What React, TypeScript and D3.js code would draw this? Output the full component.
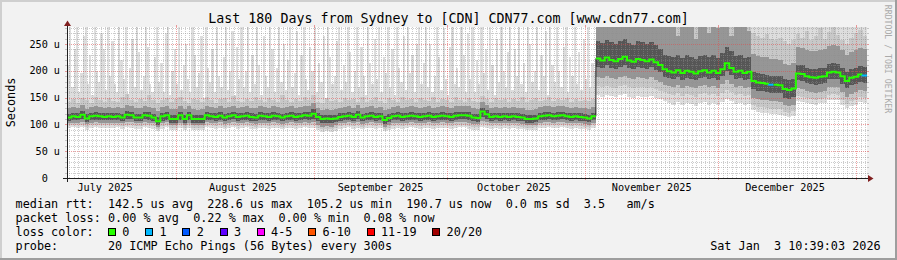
import React from 'react';
import * as d3 from 'd3';

// ---------------- data (180 days ending Sat Jan 3 10:39:03 2026) ----------------
const END_TIME = Date.UTC(2026, 0, 3, 10, 39, 3);
const DAY_MS = 86400000;
const DAYS = 180;
const START_TIME = END_TIME - DAYS * DAY_MS;

// median rtt (us), one value per day
const median = [
  113,115,114,118,111,115,116,115,114,115, 114,115,113,118,117,113,113,117,116,113,
  106,115,117,110,110,117,110,117,110,110, 110,117,115,114,116,113,115,117,114,115,
  116,114,113,116,115,114,116,115,113,115, 116,114,115,117,116,120,114,110,111,110,
  111,114,115,116,114,118,113,115,116,114, 115,108,112,115,116,114,115,116,115,114,
  115,116,114,115,116,115,114,116,117,117, 116,113,112,124,119,114,115,114,115,114,
  115,114,113,110,110,111,115,116,117,115, 116,117,115,114,115,114,113,111,115,
  223,219,225,220,218,222,226,219,217,222,220,218,221,216,211,203,
  199,197,201,196,200,198,195,199,201,197,200,196,203,214,205,198,200,196,198,
  181,178,177,176,174,174,173,166,164,167,
  195,194,190,188,187,189,190,197,198,197,190,181,187,189,193,191,
];

// smoke: inner dark band (per day)
const smokeLo4 = [
  107,108,108,110,105,108,109,109,108,108, 108,108,107,110,110,107,107,110,109,107,
  99,107,109,103,103,108,103,108,103,103, 103,109,108,107,109,106,108,110,107,108,
  109,107,106,109,108,107,109,108,106,108, 109,107,108,110,108,111,106,102,103,102,
  104,107,108,109,107,110,106,108,109,107, 108,100,104,108,109,107,108,109,108,107,
  108,109,107,108,109,108,107,109,110,110, 108,106,105,113,111,107,108,107,108,107,
  108,107,106,103,103,104,108,109,110,108, 109,110,108,107,108,107,106,104,108,
  208,205,210,206,204,208,211,205,203,207,206,204,207,202,197,189,
  186,184,188,183,187,185,182,186,188,184,187,183,190,199,192,185,187,183,185,
  166,163,162,161,159,159,158,150,148,151,
  182,181,177,175,174,176,177,184,185,184,176,167,173,175,180,178,
];
const smokeHi4 = [
  120,122,121,125,119,122,123,122,121,122, 121,122,120,125,124,120,120,124,123,120,
  114,122,124,118,118,124,118,124,118,117, 117,124,122,121,123,120,122,124,121,122,
  123,121,120,123,122,121,123,122,120,122, 123,121,122,124,123,128,121,117,118,117,
  118,121,122,123,121,125,120,122,123,121, 122,116,119,122,123,121,122,123,122,121,
  122,123,121,122,123,122,121,123,124,124, 123,120,119,131,126,121,122,121,122,121,
  122,121,120,117,117,118,122,123,124,122, 123,124,122,121,122,121,120,118,122,
  256,252,258,254,250,255,260,252,249,255,253,250,254,248,240,230,
  228,225,230,224,229,226,222,227,230,225,229,224,233,245,236,227,229,224,226,
  198,195,194,193,191,191,190,184,182,185,
  211,210,206,204,203,205,206,213,214,213,206,197,203,205,209,207,
];
// smoke: middle band (per day)
const smokeLo3 = [
  102,103,103,104,100,103,104,103,103,103, 103,103,102,104,104,102,102,104,103,102,
  95,102,104,98,98,103,98,103,98,98, 98,104,103,102,104,101,103,104,102,103,
  104,102,101,103,103,102,104,103,101,103, 104,102,103,104,103,104,99,96,97,96,
  98,102,103,104,102,104,101,103,104,102, 103,95,98,102,103,102,103,104,103,102,
  103,104,102,103,104,103,102,104,104,104, 102,100,100,106,105,102,103,102,103,102,
  103,102,101,98,98,99,103,104,104,103, 104,104,103,102,103,102,101,99,103,
  188,186,190,187,185,189,191,186,184,188,187,185,188,183,179,174,
  171,169,173,168,172,170,167,171,173,169,172,168,175,182,176,170,172,168,170,
  150,147,146,145,143,143,142,136,134,137,
  167,166,162,160,159,161,162,169,170,169,160,151,157,160,165,163,
];
const smokeHi3 = [
  130,133,131,136,128,132,134,132,131,133, 131,133,130,136,135,130,131,134,133,130,
  125,132,135,128,128,134,128,134,128,127, 128,135,132,131,134,130,132,135,131,132,
  134,131,130,134,132,131,134,132,130,132, 134,131,132,135,134,140,131,127,128,127,
  128,131,132,134,131,136,130,132,134,131, 132,126,129,132,134,131,132,134,132,131,
  132,134,131,132,134,132,131,134,135,135, 134,130,129,142,137,131,132,131,132,131,
  132,131,130,127,127,128,132,134,135,132, 134,135,132,131,132,131,130,128,132,
  300,300,300,300,300,300,300,300,300,300,300,300,300,300,285,285,
  290,300,265,300,285,300,260,300,295,270,300,280,300,300,265,300,290,300,275,
  232,228,226,225,222,222,220,212,210,214,
  245,243,239,237,236,238,240,247,249,247,239,229,235,238,243,241,
];
// smoke: outer-middle band (per day)
const smokeLo2 = [
  98,99,98,99,95,98,99,98,98,98, 98,99,97,99,99,97,97,99,98,97,
  91,97,99,94,94,98,94,98,94,94, 94,99,98,97,99,96,98,99,97,98,
  99,97,96,98,98,97,99,98,96,98, 99,97,98,99,98,99,94,91,92,91,
  93,97,98,99,97,99,96,98,99,97, 98,91,94,97,98,97,98,99,98,97,
  98,99,97,98,99,98,97,99,99,99, 97,95,95,100,99,97,98,97,98,97,
  98,97,96,94,94,95,98,99,99,98, 99,99,98,97,98,97,96,95,98,
  171,169,172,170,168,171,173,169,167,170,169,168,170,166,163,160,
  156,154,158,153,157,155,152,156,158,154,157,153,159,165,160,155,157,153,155,
  136,133,132,131,129,129,128,124,122,125,
  153,152,149,147,146,148,149,155,156,155,146,138,143,146,151,149,
];
const smokeHi2 = [
  141,147,140,150,145,139,152,146,142,149, 143,141,151,156,146,141,148,143,155,145,
  140,145,149,141,147,152,143,140,148,145, 142,151,145,140,147,149,141,153,144,141,
  148,143,152,145,141,150,145,141,155,146, 141,148,143,151,145,155,142,139,149,144,
  145,141,150,145,147,142,152,141,146,151, 144,140,149,145,142,152,145,147,141,150,
  145,143,151,141,148,145,142,152,146,141, 149,144,142,153,148,141,150,145,147,141,
  148,143,151,141,146,149,143,145,152,143, 147,145,150,141,148,143,145,143,147,
  300,300,300,300,300,300,300,300,300,300,300,300,300,300,300,300,
  300,300,300,300,300,300,300,300,300,300,300,300,300,300,300,300,300,300,300,
  270,265,262,268,260,258,262,255,250,258,
  268,262,275,258,265,280,260,272,285,266,258,250,262,270,276,265,
];
// smoke: outer band, lowest ping (per day)
const smokeMin = [
  94,95,93,95,90,93,95,94,93,94, 93,95,92,95,94,92,92,95,93,92,
  87,92,95,89,89,94,89,93,89,89, 89,95,93,92,94,91,93,95,92,93,
  95,92,91,94,93,92,94,93,91,93, 94,92,93,95,93,94,89,86,87,86,
  88,92,93,95,92,94,91,93,94,92, 93,87,89,92,94,92,93,95,93,92,
  93,94,92,93,94,93,92,94,95,95, 92,90,90,95,94,92,93,92,93,92,
  93,92,91,89,89,90,93,94,95,93, 94,95,93,92,93,92,91,90,93,
  154,152,155,153,151,154,156,152,150,153,152,151,153,149,147,144,
  139,137,141,136,140,138,135,139,141,137,140,136,142,147,143,138,140,136,138,
  126,123,122,121,119,119,118,115,113,116,
  143,142,140,138,137,139,140,145,146,145,136,130,134,137,141,140,
];
// smoke: outer band, highest ping (per half day)
const smokeMaxHalfDay = [
  210,285,170,240,285,160,195,265,285,175,230,155,285,200,180,270,240,165,285,190,
  255,175,160,285,220,185,285,150,205,260,170,285,235,165,190,285,245,175,160,225,
  285,180,215,160,270,285,155,200,240,175,285,165,210,250,185,160,285,230,170,195,
  265,150,285,205,180,240,160,285,190,170,225,285,165,200,275,155,245,185,285,170,
  200,285,160,230,175,285,210,155,265,190,170,285,240,160,205,285,180,250,165,220,
  285,170,195,275,155,230,285,185,165,245,200,285,160,215,180,265,150,285,225,175,
  190,255,285,165,210,180,285,235,160,200,285,170,245,190,155,285,215,175,260,185,
  285,160,225,195,285,170,240,155,285,205,180,265,165,285,195,230,160,250,285,175,
  215,285,170,250,160,190,285,225,165,280,185,155,245,285,175,205,170,285,230,160,
  270,185,285,160,220,175,285,195,240,165,285,210,155,260,180,285,200,170,235,285,
  165,240,190,285,175,215,160,285,250,180,200,285,165,230,190,275,155,285,210,180,
  285,200,170,245,285,160,225,190,285,175,235,165,260,185,285,170,215,200,
  300,300,300,300,300,300,300,300,300,300,300,300,300,300,300,300,300,300,300,300,
  300,300,300,300,300,300,300,300,300,300,300,300,300,300,300,300,300,300,300,300,
  300,300,300,300,300,300,300,300,300,300,300,300,300,300,300,300,300,300,300,300,
  300,300,300,300,300,300,300,300,300,300,300,300,300,300,300,300,300,300,300,300,
  300,300,300,300,300,300,300,300,300,300,300,300,300,300,300,300,300,300,300,300,
  300,300,300,300,300,300,300,300,300,300,300,300,300,300,300,300,300,300,300,300,
  300,300,
];
// days (index) with packet loss, and number of lost pings
const lossDays = [158, 179];
const lossCounts = [1, 1];

const yTicks = [0, 50, 100, 150, 200, 250];
const monthStarts = [
  Date.UTC(2025, 6, 1), Date.UTC(2025, 7, 1), Date.UTC(2025, 8, 1), Date.UTC(2025, 9, 1),
  Date.UTC(2025, 10, 1), Date.UTC(2025, 11, 1), Date.UTC(2026, 0, 1),
];
const monthLabels = ['July 2025', 'August 2025', 'September 2025', 'October 2025', 'November 2025', 'December 2025', ''];
const lossLabels = ['0', '1', '2', '3', '4-5', '6-10', '11-19', '20/20'];
const lossColors = ['#26ff00', '#00b8ff', '#0059ff', '#5e00ff', '#ff00ff', '#ff5500', '#ff0000', '#a10000'];
const lossUpper = [0, 1, 2, 3, 5, 10, 19, 20];

const title = 'Last 180 Days from Sydney to [CDN] CDN77.com [www.cdn77.com]';
const legendRtt = 'median rtt:  142.5 us avg  228.6 us max  105.2 us min  190.7 us now  0.0 ms sd  3.5   am/s';
const legendLoss = 'packet loss: 0.00 % avg  0.22 % max  0.00 % min  0.08 % now';
const legendProbe = 'probe:       20 ICMP Echo Pings (56 Bytes) every 300s';
const stamp = 'Sat Jan  3 10:39:03 2026';

// ---------------- layout ----------------
const W = 897, H = 260;
const PL = 67, PR = 867, PT = 27, PB = 178;
const Y_MAX = 281.7;
const MONO = '"DejaVu Sans Mono", monospace';
const CW = 7.1;

const bandColors = ['#dddddd', '#c8c8c8', '#969696', '#565656'];
const GRID = 'rgba(143,143,143,0.45)';
const MGRID = 'rgba(222,79,79,0.55)';

function lossColor(c: number) {
  for (let k = 0; k < lossUpper.length; k++) if (c <= lossUpper[k]) return lossColors[k];
  return lossColors[lossColors.length - 1];
}

export default function App() {
  React.useEffect(() => {
    document.body.style.margin = '0';
  }, []);

  const x = d3.scaleTime().domain([new Date(START_TIME), new Date(END_TIME)]).range([PL, PR]);
  const y = d3.scaleLinear().domain([0, Y_MAX]).range([PB, PT]);
  const t = (i: number) => new Date(START_TIME + i * DAY_MS);
  const idx = d3.range(DAYS + 1);
  const idxHalf = d3.range(DAYS * 2 + 1);
  const at = (arr: number[], i: number) => arr[Math.min(i, arr.length - 1)];

  const band = (lo: number[], hi: number[]) =>
    d3.area<number>()
      .x((i) => x(t(i)))
      .y0((i) => y(at(lo, i)))
      .y1((i) => y(at(hi, i)))
      .curve(d3.curveStepAfter)(idx) || '';

  const outerBand = d3.area<number>()
    .x((h) => x(t(h / 2)))
    .y0((h) => y(at(smokeMin, Math.floor(h / 2))))
    .y1((h) => y(at(smokeMaxHalfDay, h)))
    .curve(d3.curveStepAfter)(idxHalf) || '';

  const bands = [
    outerBand,
    band(smokeLo2, smokeHi2),
    band(smokeLo3, smokeHi3),
    band(smokeLo4, smokeHi4),
  ];

  const medLine = d3.line<number>()
    .x((i) => x(t(i)))
    .y((i) => y(at(median, i)))
    .curve(d3.curveStepAfter)(idx) || '';

  const lossOf = (i: number) => {
    const k = lossDays.indexOf(i);
    return k >= 0 ? lossCounts[k] : 0;
  };

  const runs: { color: string; pts: [number, number][] }[] = [];
  let cur: { color: string; pts: [number, number][] } | null = null;
  for (let i = 0; i < DAYS; i++) {
    const col = lossColor(lossOf(i));
    const jump = i > 0 && Math.abs(median[i] - median[i - 1]) > 30;
    if (!cur || cur.color !== col || jump) {
      if (cur) runs.push(cur);
      cur = { color: col, pts: [] };
      if (i > 0 && !jump) cur.pts.push([x(t(i)), y(median[i - 1])]);
    }
    cur.pts.push([x(t(i)), y(median[i])]);
    cur.pts.push([x(t(i + 1)), y(median[i])]);
  }
  if (cur) runs.push(cur);
  const runLine = d3.line<[number, number]>().x((p) => p[0]).y((p) => p[1]).curve(d3.curveStepAfter);

  const minorY = d3.range(10, Y_MAX, 10).filter((v) => v % 50 !== 0);
  const majorY = yTicks.filter((v) => v > 0);
  const monthSet = new Set(monthStarts);
  const minorX = d3.utcDay.range(new Date(START_TIME), new Date(END_TIME)).filter((d) => !monthSet.has(d.getTime()));
  const majorX = monthStarts.filter((m) => m > START_TIME && m < END_TIME);
  const px = (v: number) => Math.round(v) + 0.5;

  const lossItems: { bx: number; tx: number; label: string; color: string }[] = [];
  let bx = 108;
  lossLabels.forEach((lab, k) => {
    const tx = bx + 14.3;
    lossItems.push({ bx, tx, label: lab, color: lossColors[k] });
    bx = tx + lab.length * CW + 15.8;
  });

  const textStyle: React.CSSProperties = { whiteSpace: 'pre' };

  return (
    <svg width={W} height={H} viewBox={`0 0 ${W} ${H}`} style={{ position: 'absolute', left: 0, top: 0, display: 'block' }}>
      <defs>
        <clipPath id="plotclip">
          <rect x={PL} y={PT} width={PR - PL} height={PB - PT} />
        </clipPath>
      </defs>
      <rect x={0} y={0} width={W} height={H} fill="#f2f2f2" />
      <rect x={0} y={0} width={W} height={2} fill="#cfcfcf" />
      <rect x={0} y={0} width={2} height={H} fill="#cfcfcf" />
      <rect x={0} y={H - 2} width={W} height={2} fill="#9e9e9e" />
      <rect x={W - 2} y={0} width={2} height={H} fill="#9e9e9e" />

      <rect x={PL} y={PT} width={PR - PL} height={PB - PT} fill="#ffffff" />

      <g clipPath="url(#plotclip)" shapeRendering="crispEdges">
        {bands.map((d, k) => (
          <path key={k} d={d} fill={bandColors[k]} />
        ))}
      </g>

      <g shapeRendering="crispEdges">
        {minorY.map((v) => (
          <line key={'my' + v} x1={PL} x2={PR} y1={px(y(v))} y2={px(y(v))} stroke={GRID} strokeDasharray="1,1" />
        ))}
        {minorX.map((d) => (
          <line key={'mx' + d.getTime()} x1={px(x(d))} x2={px(x(d))} y1={PT} y2={PB} stroke={GRID} strokeDasharray="1,1" />
        ))}
        {majorY.map((v) => (
          <line key={'My' + v} x1={PL} x2={PR} y1={px(y(v))} y2={px(y(v))} stroke={MGRID} strokeDasharray="1,1" />
        ))}
        {majorX.map((m) => (
          <line key={'Mx' + m} x1={px(x(new Date(m)))} x2={px(x(new Date(m)))} y1={PT} y2={PB} stroke={MGRID} strokeDasharray="1,1" />
        ))}
        {minorY.map((v) => (
          <g key={'ty' + v}>
            <line x1={PL - 2} x2={PL} y1={px(y(v))} y2={px(y(v))} stroke={GRID} />
            <line x1={PR} x2={PR + 2} y1={px(y(v))} y2={px(y(v))} stroke={GRID} />
          </g>
        ))}
        {majorY.map((v) => (
          <g key={'tY' + v}>
            <line x1={PL - 2} x2={PL} y1={px(y(v))} y2={px(y(v))} stroke={MGRID} />
            <line x1={PR} x2={PR + 2} y1={px(y(v))} y2={px(y(v))} stroke={MGRID} />
          </g>
        ))}
        {majorX.map((m) => (
          <g key={'tX' + m}>
            <line x1={px(x(new Date(m)))} x2={px(x(new Date(m)))} y1={PT - 2} y2={PT} stroke={MGRID} />
            <line x1={px(x(new Date(m)))} x2={px(x(new Date(m)))} y1={PB} y2={PB + 2} stroke={MGRID} />
          </g>
        ))}
      </g>

      <g clipPath="url(#plotclip)">
        <path d={medLine} fill="none" stroke="#202020" strokeWidth={1} />
        {runs.map((r, k) => (
          <path key={k} d={runLine(r.pts) || ''} fill="none" stroke={r.color} strokeWidth={2} />
        ))}
      </g>

      <g shapeRendering="crispEdges">
        <line x1={PL - 4} x2={PR + 1} y1={PB + 0.5} y2={PB + 0.5} stroke="#1f1f1f" />
        <line x1={PL + 0.5} x2={PL + 0.5} y1={PB + 4} y2={PT - 1} stroke="#1f1f1f" />
      </g>
      <path d={`M${PL + 0.5 - 3.5},${PT - 1} L${PL + 0.5 + 3.5},${PT - 1} L${PL + 0.5},${PT - 6.5} Z`} fill="#801f1f" />
      <path d={`M${PR + 1},${PB + 0.5 - 3.5} L${PR + 1},${PB + 0.5 + 3.5} L${PR + 6.5},${PB + 0.5} Z`} fill="#801f1f" />

      <text x={W / 2} y={23.3} textAnchor="middle" fontFamily={MONO} fontSize={13.3} fill="#000" style={textStyle}>
        {title}
      </text>

      {yTicks.map((v) => (
        <g key={'yl' + v} fontFamily={MONO} fontSize={10.2} fill="#000">
          <text x={47.8} y={y(v) + 3.6} textAnchor="end">{String(v)}</text>
          {v > 0 && <text x={60} y={y(v) + 3.6} textAnchor="end">u</text>}
        </g>
      ))}
      <text transform={`translate(15.3,102.5) rotate(-90)`} textAnchor="middle" fontFamily={MONO} fontSize={11.8} fill="#000">
        Seconds
      </text>

      {monthStarts.map((m, k) =>
        monthLabels[k] ? (
          <text key={'xl' + m} x={x(new Date(m + 15 * DAY_MS))} y={190.6} textAnchor="middle" fontFamily={MONO} fontSize={10.2} fill="#000">
            {monthLabels[k]}
          </text>
        ) : null
      )}

      <text transform={`translate(885.3,59) rotate(90)`} textAnchor="middle" fontFamily={MONO} fontSize={8.2} fill="#aaaaaa" style={textStyle}>
        RRDTOOL / TOBI OETIKER
      </text>

      <g fontFamily={MONO} fontSize={11.8} fill="#000">
        <text x={15.6} y={207.5} style={textStyle}>{legendRtt}</text>
        <text x={15.6} y={221.7} style={textStyle}>{legendLoss}</text>
        <text x={15.6} y={235.8} style={textStyle}>loss color:</text>
        {lossItems.map((it) => (
          <g key={it.label}>
            <rect x={it.bx + 0.5} y={228.5} width={7} height={7} fill={it.color} stroke="#000" strokeWidth={1} shapeRendering="crispEdges" />
            <text x={it.tx} y={235.8} style={textStyle}>{it.label}</text>
          </g>
        ))}
        <text x={15.6} y={250} style={textStyle}>{legendProbe}</text>
        <text x={880.6} y={250} textAnchor="end" style={textStyle}>{stamp}</text>
      </g>
    </svg>
  );
}
